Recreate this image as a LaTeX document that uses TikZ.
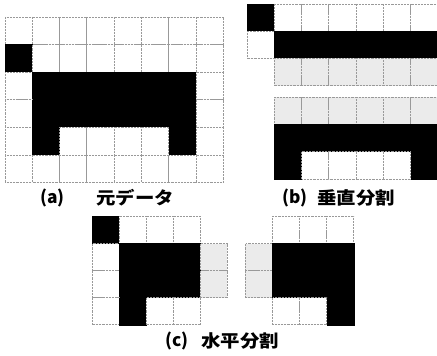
\documentclass[tikz,border=0pt]{standalone}
\usepackage{fontspec}
\newfontfamily\jp{Noto Sans CJK JP}
\newcommand\drawrow[5]{% x0, y, w, h, list
  \foreach \t [count=\i from 0] in {#5} {\path[c\t] ({#1+\i*#3},#2) rectangle ++(#3,#4);}}
\tikzset{
  cw/.style={draw=gray!80, line width=0.6pt, dash pattern=on 0.6pt off 0.5pt, fill=white},
  cg/.style={draw=gray!80, line width=0.6pt, dash pattern=on 0.6pt off 0.5pt, fill=gray!16},
  cb/.style={fill=black, draw=black, line width=0.3pt},
  cn/.style={},
  lab/.style={font=\jp\bfseries\fontsize{13}{13}\selectfont, inner sep=0pt, anchor=west}
}
\begin{document}
\begin{tikzpicture}[x=0.75pt,y=-0.75pt]
\useasboundingbox[fill=white] (0,0) rectangle (437,356);
% (a) original data
\drawrow{5}{17}{27.3}{27.6}{w,w,w,w,w,w,w,w}
\drawrow{5}{44.6}{27.3}{27.6}{b,w,w,w,w,w,w,w}
\drawrow{5}{72.2}{27.3}{27.6}{w,b,b,b,b,b,b,w}
\drawrow{5}{99.8}{27.3}{27.6}{w,b,b,b,b,b,b,w}
\drawrow{5}{127.4}{27.3}{27.6}{w,b,w,w,w,w,b,w}
\drawrow{5}{155}{27.3}{27.6}{w,w,w,w,w,w,w,w}
% (b) vertical split, top part
\drawrow{247}{4}{27.3}{27.2}{b,w,w,w,w,w,w}
\drawrow{247}{31.2}{27.3}{27.2}{w,b,b,b,b,b,b}
\drawrow{247}{58.4}{27.3}{27.2}{n,g,g,g,g,g,g}
% (b) bottom part
\drawrow{247}{97.5}{27.3}{27.2}{n,g,g,g,g,g,g}
\drawrow{247}{124.7}{27.3}{27.2}{n,b,b,b,b,b,b}
\drawrow{247}{151.9}{27.3}{27.2}{n,b,w,w,w,w,b}
% (c) horizontal split, left part
\drawrow{92}{216.5}{27.1}{27.1}{b,w,w,w,n}
\drawrow{92}{243.6}{27.1}{27.1}{w,b,b,b,g}
\drawrow{92}{270.7}{27.1}{27.1}{w,b,b,b,g}
\drawrow{92}{297.8}{27.1}{27.1}{w,b,w,w,n}
% (c) right part
\drawrow{245.5}{216.5}{27.1}{27.1}{n,w,w,w}
\drawrow{245.5}{243.6}{27.1}{27.1}{g,b,b,b}
\drawrow{245.5}{270.7}{27.1}{27.1}{g,b,b,b}
\drawrow{245.5}{297.8}{27.1}{27.1}{n,w,w,b}
% labels
\node[lab] (la1) at (40,198) {(a)};
\node[lab] (la2) at (96,198) {\scalebox{1.12}[1]{元データ}};
\node[lab] (lb1) at (282,198) {(b)};
\node[lab] (lb2) at (317,198) {\scalebox{1.12}[1]{垂直分割}};
\node[lab] (lc1) at (165,341) {(c)};
\node[lab] (lc2) at (201,341) {\scalebox{1.12}[1]{水平分割}};
\end{tikzpicture}
\end{document}
